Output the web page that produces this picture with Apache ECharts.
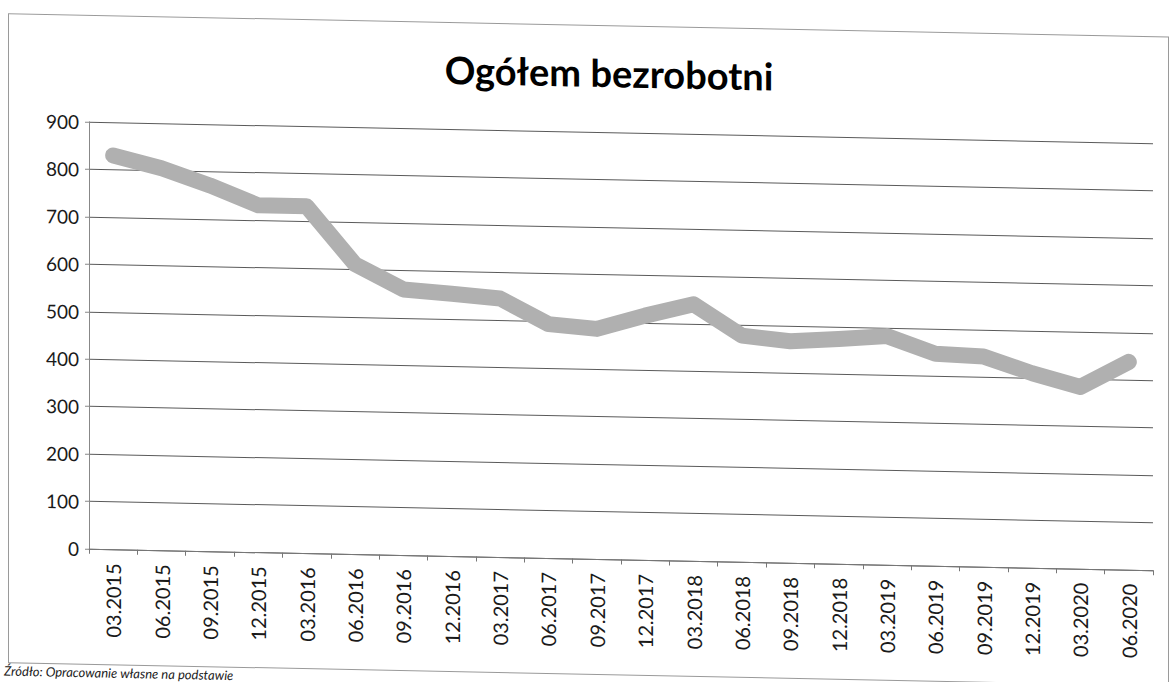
<!DOCTYPE html>
<html>
<head>
<meta charset="utf-8">
<script src="https://cdn.jsdelivr.net/npm/echarts@6/dist/echarts.min.js"></script>
<style>
  html, body { margin: 0; padding: 0; background: #ffffff; overflow: hidden; }
  #chart { width: 1172px; height: 682px; transform: skewY(1.15deg); transform-origin: 0 0; }
</style>
</head>
<body>
<div id="chart"></div>
<script>
const categories = ['03.2015','06.2015','09.2015','12.2015','03.2016','06.2016','09.2016','12.2016',
  '03.2017','06.2017','09.2017','12.2017','03.2018','06.2018','09.2018','12.2018',
  '03.2019','06.2019','09.2019','12.2019','03.2020','06.2020'];
const unemployed = [830, 805, 771, 731, 731, 611, 560, 553, 545, 493, 485, 515,
  541, 477, 467, 474, 482, 447, 443, 410, 383, 438];
const yTicks = { min: 0, max: 900, interval: 100 };
const titleText = 'Ogółem bezrobotni';
const sourceText = 'Źródło: Opracowanie własne na podstawie';

const chart = echarts.init(document.getElementById('chart'), null, { renderer: 'svg' });
chart.setOption({
  animation: false,
  backgroundColor: '#ffffff',
  grid: { left: 89, right: 19, top: 120, bottom: 135, containLabel: false },
  graphic: [
    { type: 'rect', shape: { x: 8.5, y: 13.5, width: 1160, height: 649 },
      style: { fill: 'none', stroke: '#9a9a9a', lineWidth: 1 }, silent: true },
    { type: 'text', x: 609, y: 60,
      style: { text: titleText, fontFamily: 'Lato', fontWeight: 'bold', fontSize: 38,
               fill: '#000000', textAlign: 'center', textVerticalAlign: 'middle' } },
    { type: 'text', x: 4, y: 664,
      style: { text: sourceText, fontFamily: 'Lato', fontStyle: 'italic', fontSize: 13,
               fill: '#222222', textAlign: 'left', textVerticalAlign: 'top' } }
  ],
  xAxis: {
    type: 'category',
    data: categories,
    boundaryGap: true,
    axisLine: { show: true, lineStyle: { color: '#777777', width: 1 } },
    axisTick: { show: true, interval: 0, length: 5, lineStyle: { color: '#777777' } },
    axisLabel: { interval: 0, rotate: 90, margin: 14, fontFamily: 'Lato', fontSize: 20, color: '#1a1a1a' },
    splitLine: { show: false }
  },
  yAxis: {
    type: 'value',
    min: yTicks.min, max: yTicks.max, interval: yTicks.interval,
    axisLine: { show: true, lineStyle: { color: '#888888', width: 1 } },
    axisTick: { show: true, length: 4, lineStyle: { color: '#888888' } },
    axisLabel: { margin: 10, fontFamily: 'Lato', fontSize: 19, color: '#1a1a1a' },
    splitLine: { show: true, lineStyle: { color: '#5a5a5a', width: 1 } }
  },
  series: [{
    type: 'line',
    data: unemployed,
    symbol: 'none',
    smooth: false,
    lineStyle: { color: '#b0b0b0', width: 16, cap: 'round', join: 'round' }
  }]
});
</script>
</body>
</html>
